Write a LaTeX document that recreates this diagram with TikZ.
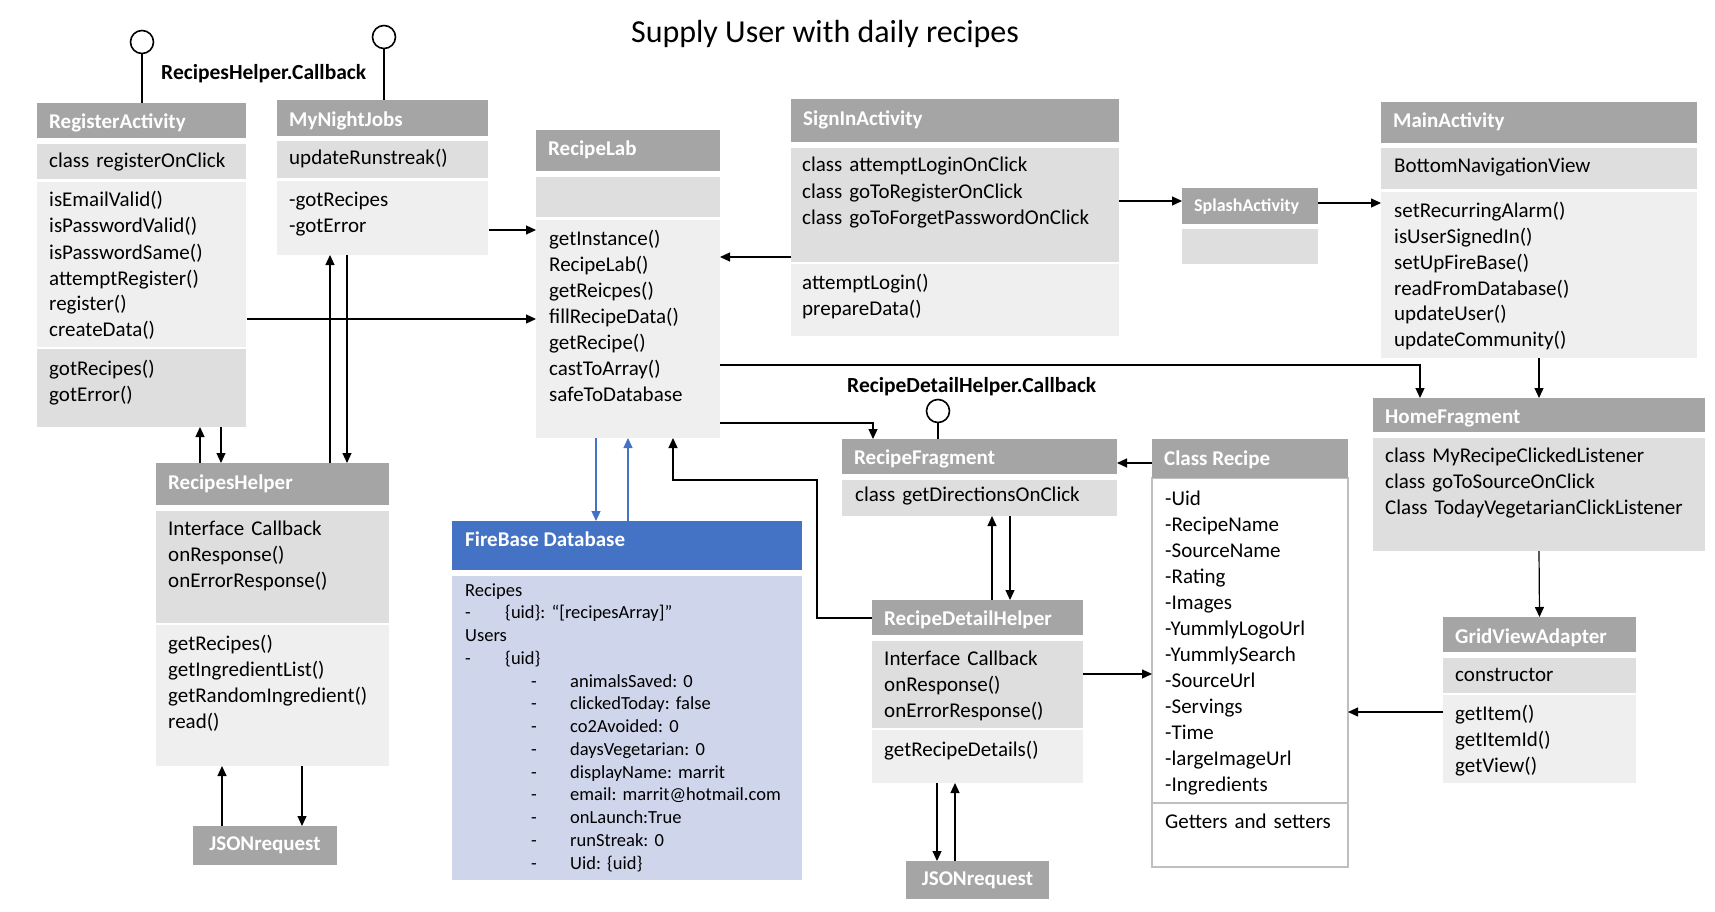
\documentclass[tikz,border=0pt]{standalone}
\usepackage{fontspec}
\setmainfont{Carlito}
\usetikzlibrary{arrows.meta,calc}
\definecolor{hdrgray}{HTML}{A5A5A5}
\definecolor{dkgray}{HTML}{DEDEDE}
\definecolor{ltgray}{HTML}{EFEFEF}
\definecolor{fbblue}{HTML}{4472C4}
\definecolor{fbbody}{HTML}{CFD5EA}
\definecolor{crgray}{HTML}{BFBFBF}
\frenchspacing
\newcommand\ubox[6]{\node[#2, minimum width=#5pt, minimum height=#6pt] (#1) at (#3,#4) {};}
\begin{document}
\begin{tikzpicture}[x=1pt,y=-1pt,
  box/.style={anchor=north west, inner sep=0pt, outer sep=0pt},
  hdrbox/.style={box, fill=hdrgray},
  dkbox/.style={box, fill=dkgray},
  ltbox/.style={box, fill=ltgray},
  htxt/.style={anchor=west, inner sep=0pt, text=white, font=\fontsize{21}{26}\selectfont\bfseries, text height=14pt, text depth=4pt},
  txt/.style={anchor=base west, inner sep=0pt, text width=340pt, align=left, font=\fontsize{21}{26}\selectfont},
  fbtxt/.style={txt, font=\fontsize{18.5}{22.75}\selectfont},
  lbl/.style={anchor=base west, inner sep=0pt, font=\fontsize{21.5}{26}\selectfont\bfseries},
  jsbox/.style={hdrbox, text=white, font=\fontsize{21}{26}\selectfont\bfseries},
  conn/.style={line width=1.2pt},
  arr/.style={conn, -{Triangle[length=10pt,width=9pt]}},
  iface/.style={circle, draw, line width=1.6pt, fill=white, minimum size=23pt, inner sep=0pt},
]
\useasboundingbox (0,0) rectangle (1715,912);
\fill[white] (0,0) rectangle (1715,912);

% title
\node[anchor=base, inner sep=0pt, font=\fontsize{32}{38}\selectfont] (title) at (825,43) {Supply User with daily recipes};

% RegisterActivity
\ubox{rah}{hdrbox}{37}{103}{209}{35}
\node[htxt] (rah-t) at ($(rah.west)+(12,3)$) {RegisterActivity};
\ubox{ra1}{dkbox}{37}{144}{209}{35}
\ubox{ra2}{ltbox}{37}{182}{209}{165}
\ubox{ra3}{dkbox}{37}{349}{209}{78}
\node[txt] (ra1-t) at (49,168) {class registerOnClick};
\node[txt] (ra2-t) at (49,207) {isEmailValid()\\isPasswordValid()\\isPasswordSame()\\attemptRegister()\\register()\\createData()};
\node[txt] (ra3-t) at (49,375) {gotRecipes()\\gotError()};

% MyNightJobs
\ubox{mnh}{hdrbox}{277}{100}{211}{36}
\node[htxt] (mnh-t) at ($(mnh.west)+(12,4)$) {MyNightJobs};
\ubox{mn1}{dkbox}{277}{141}{211}{37}
\ubox{mn2}{ltbox}{277}{181}{211}{74}
\node[txt] (mn1-t) at (289,165) {updateRunstreak()};
\node[txt] (mn2-t) at (289,207) {-gotRecipes\\-gotError};

% interface circles
\node[iface] (ci1) at (142,42) {};
\draw[conn] (ci1.south) -- (ci1.south |- rah.north);
\node[iface] (ci2) at (384,37) {};
\draw[conn] (ci2.south) -- (ci2.south |- mnh.north);
\node[lbl] (cb1) at (161,80) {RecipesHelper.Callback};

% RecipeLab
\ubox{rlh}{hdrbox}{536}{130}{184}{41}
\node[htxt] (rlh-t) at ($(rlh.west)+(12,0)$) {RecipeLab};
\ubox{rl1}{dkbox}{536}{177}{184}{40}
\ubox{rl2}{ltbox}{536}{220}{184}{218}
\node[txt] (rl2-t) at (549,245) {getInstance()\\RecipeLab()\\getReicpes()\\fillRecipeData()\\getRecipe()\\castToArray()\\safeToDatabase};

% SignInActivity
\ubox{sih}{hdrbox}{791}{99}{328}{43}
\node[htxt] (sih-t) at ($(sih.west)+(12,0)$) {SignInActivity};
\ubox{si1}{dkbox}{791}{148}{328}{114}
\ubox{si2}{ltbox}{791}{264}{328}{72}
\node[txt] (si1-t) at (802,172) {class attemptLoginOnClick\\class goToRegisterOnClick\\class goToForgetPasswordOnClick};
\node[txt] (si2-t) at (802,289) {attemptLogin()\\prepareData()};

% SplashActivity
\ubox{sph}{hdrbox}{1182}{188}{136}{36}
\node[htxt, font=\fontsize{18}{22}\selectfont\bfseries, text height=12pt, text depth=3.5pt] (sph-t) at ($(sph.west)+(12,1)$) {SplashActivity};
\ubox{sp1}{dkbox}{1182}{229}{136}{35}

% MainActivity
\ubox{mah}{hdrbox}{1381}{102}{316}{41}
\node[htxt] (mah-t) at ($(mah.west)+(12,0)$) {MainActivity};
\ubox{ma1}{dkbox}{1381}{148}{316}{41}
\ubox{ma2}{ltbox}{1381}{192}{316}{166}
\node[txt] (ma1-t) at (1394,173) {BottomNavigationView};
\node[txt] (ma2-t) at (1394,217) {setRecurringAlarm()\\isUserSignedIn()\\setUpFireBase()\\readFromDatabase()\\updateUser()\\updateCommunity()};

% HomeFragment
\ubox{hfh}{hdrbox}{1373}{398}{332}{34}
\node[htxt] (hfh-t) at ($(hfh.west)+(12,3)$) {HomeFragment};
\ubox{hf1}{dkbox}{1373}{438}{332}{113}
\node[txt] (hf1-t) at (1385,462) {class MyRecipeClickedListener\\class goToSourceOnClick\\Class TodayVegetarianClickListener};

% GridViewAdapter
\ubox{gvh}{hdrbox}{1443}{617}{193}{35}
\node[htxt] (gvh-t) at ($(gvh.west)+(12,4)$) {GridViewAdapter};
\ubox{gv1}{dkbox}{1443}{658}{193}{35}
\ubox{gv2}{ltbox}{1443}{695}{193}{88}
\node[txt] (gv1-t) at (1455,681) {constructor};
\node[txt] (gv2-t) at (1455,720) {getItem()\\getItemId()\\getView()};

% Class Recipe
\node[box, fill=white, draw=crgray, line width=1.2pt, minimum width=196pt, minimum height=389pt] (crb) at (1152,478) {};
\ubox{crh}{hdrbox}{1152}{439}{196}{39}
\node[htxt] (crh-t) at ($(crh.west)+(12,2)$) {Class Recipe};
\coordinate (crd) at ($(crb.north west)+(0,325)$);
\draw[crgray, line width=1.2pt] (crd) -- (crd -| crb.east);
\node[txt] (crb-t) at (1165,505) {-Uid\\-RecipeName\\-SourceName\\-Rating\\-Images\\-YummlyLogoUrl\\-YummlySearch\\-SourceUrl\\-Servings\\-Time\\-largeImageUrl\\-Ingredients};
\node[txt] (crb-t2) at (1165,828) {Getters and setters};

% RecipeFragment
\ubox{rfh}{hdrbox}{842}{439}{275}{35}
\node[htxt] (rfh-t) at ($(rfh.west)+(12,3)$) {RecipeFragment};
\ubox{rf1}{dkbox}{842}{480}{275}{36}
\node[txt] (rf1-t) at (855,501) {class getDirectionsOnClick};
\node[iface] (ci3) at (938,411) {};
\draw[conn] (ci3.south) -- (ci3.south |- rfh.north);
\node[lbl] (cb2) at (847,392) {RecipeDetailHelper.Callback};

% RecipeDetailHelper
\ubox{rdh}{hdrbox}{872}{600}{211}{35}
\node[htxt] (rdh-t) at ($(rdh.west)+(12,3)$) {RecipeDetailHelper};
\ubox{rd1}{dkbox}{872}{641}{211}{87}
\ubox{rd2}{ltbox}{872}{730}{211}{53}
\node[txt] (rd1-t) at (884,665) {Interface Callback\\onResponse()\\onErrorResponse()};
\node[txt] (rd2-t) at (884,756) {getRecipeDetails()};
\node[jsbox, minimum width=143pt, minimum height=38pt] (js2) at (906,861) {JSONrequest};

% RecipesHelper
\ubox{rhh}{hdrbox}{156}{463}{233}{42}
\node[htxt] (rhh-t) at ($(rhh.west)+(12,0)$) {RecipesHelper};
\ubox{rh1}{dkbox}{156}{511}{233}{112}
\ubox{rh2}{ltbox}{156}{625}{233}{141}
\node[txt] (rh1-t) at (168,535) {Interface Callback\\onResponse()\\onErrorResponse()};
\node[txt] (rh2-t) at (168,650) {getRecipes()\\getIngredientList()\\getRandomIngredient()\\read()};
\node[jsbox, minimum width=144pt, minimum height=39pt] (js1) at (193,826) {JSONrequest};

% FireBase
\ubox{fbh}{box, fill=fbblue}{452}{521}{350}{49}
\ubox{fbb}{box, fill=fbbody}{452}{576}{350}{304}
\node[lbl, text=white, font=\fontsize{21}{26}\selectfont\bfseries] (fbh-t) at (465,546) {FireBase Database};
\node[fbtxt] (fbb-t) at (465,596) {Recipes\\
\makebox[40pt][l]{-}\{uid\}: “[recipesArray]”\\
Users\\
\makebox[40pt][l]{-}\{uid\}\\
\hspace*{66pt}\makebox[39pt][l]{-}animalsSaved: 0\\
\hspace*{66pt}\makebox[39pt][l]{-}clickedToday: false\\
\hspace*{66pt}\makebox[39pt][l]{-}co2Avoided: 0\\
\hspace*{66pt}\makebox[39pt][l]{-}daysVegetarian: 0\\
\hspace*{66pt}\makebox[39pt][l]{-}displayName: marrit\\
\hspace*{66pt}\makebox[39pt][l]{-}email: marrit@hotmail.com\\
\hspace*{66pt}\makebox[39pt][l]{-}onLaunch:True\\
\hspace*{66pt}\makebox[39pt][l]{-}runStreak: 0\\
\hspace*{66pt}\makebox[39pt][l]{-}Uid: \{uid\}};

% connectors
\coordinate (p1) at ($(mn2.north east)+(1,49)$);
\draw[arr] (p1) -- (p1 -| rl2.west);
\coordinate (p2) at ($(ra2.north east)+(1,137)$);
\draw[arr] (p2) -- (p2 -| rl2.west);
\coordinate (p3) at ($(si1.south west)+(0,-5)$);
\draw[arr] (p3) -- (p3 -| rl2.east);
\coordinate (p4) at ($(si1.north east)+(0,53)$);
\draw[arr] (p4) -- (p4 -| sph.west);
\coordinate (p5) at ($(sph.north east)+(0,15)$);
\draw[arr] (p5) -- (p5 -| ma2.west);
\coordinate (p6) at ($(rl2.north east)+(0,145)$);
\coordinate (h6) at ($(hfh.north west)+(47,0)$);
\draw[arr] (p6) -- (p6 -| h6) -- (h6);
\draw[arr] (ma2.south) -- (hfh.north);
\coordinate (p8) at ($(rl2.north east)+(0,203)$);
\coordinate (h8) at ($(rfh.north west)+(31,0)$);
\draw[arr] (p8) -- (p8 -| h8) -- (h8);
\coordinate (p9) at ($(crh.north west)+(0,24)$);
\draw[arr] (p9) -- (p9 -| rfh.east);
\coordinate (p10) at ($(rdh.north west)+(120,0)$);
\draw[arr] (p10) -- (p10 |- rf1.south);
\coordinate (p10b) at ($(rf1.south west)+(168,0)$);
\draw[arr] (p10b) -- (p10b |- rdh.north);
\coordinate (p11) at ($(rd1.north east)+(0,33)$);
\draw[arr] (p11) -- (p11 -| crb.west);
\coordinate (p12) at ($(gv2.north west)+(0,17)$);
\draw[arr] (p12) -- (p12 -| crb.east);
\draw[arr] (hf1.south) -- (gvh.north);
\coordinate (p14) at ($(rd2.south west)+(65,0)$);
\draw[arr] (p14) -- (p14 |- js2.north);
\coordinate (p14b) at ($(js2.north west)+(49,0)$);
\draw[arr] (p14b) -- (p14b |- rd2.south);
\coordinate (p15) at ($(rdh.north west)+(0,18)$);
\coordinate (k15) at (817,480);
\coordinate (t15) at ($(rl2.south west)+(137,0)$);
\draw[arr] (p15) -- (p15 -| k15) -- (k15) -- (k15 -| t15) -- (t15);
\coordinate (p16) at ($(rl2.south west)+(60,0)$);
\draw[arr, fbblue] (p16) -- (p16 |- fbh.north);
\coordinate (p16b) at ($(fbh.north west)+(176,0)$);
\draw[arr, fbblue] (p16b) -- (p16b |- rl2.south);
\coordinate (p17) at ($(rhh.north west)+(44,0)$);
\draw[arr] (p17) -- (p17 |- ra3.south);
\coordinate (p17b) at ($(ra3.south west)+(184,0)$);
\draw[arr] (p17b) -- (p17b |- rhh.north);
\coordinate (p18) at ($(rhh.north west)+(174,0)$);
\draw[arr] (p18) -- (p18 |- mn2.south);
\coordinate (p18b) at ($(mn2.south west)+(70,0)$);
\draw[arr] (p18b) -- (p18b |- rhh.north);
\coordinate (p19) at ($(js1.north west)+(29,0)$);
\draw[arr] (p19) -- (p19 |- rh2.south);
\coordinate (p19b) at ($(rh2.south west)+(146,0)$);
\draw[arr] (p19b) -- (p19b |- js1.north);
\end{tikzpicture}
\end{document}
